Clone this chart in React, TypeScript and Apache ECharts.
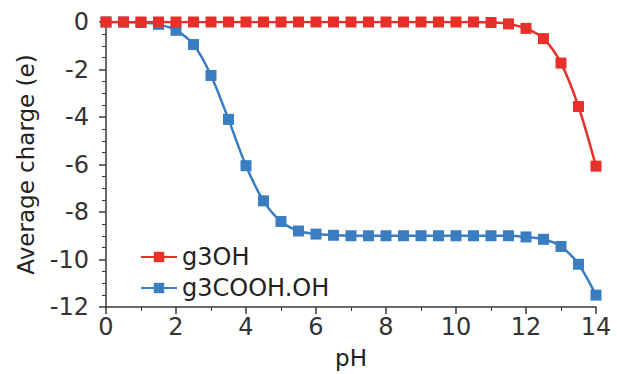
import React, { useEffect, useRef } from "react";
import * as echarts from "echarts";

const pH = [0, 0.5, 1, 1.5, 2, 2.5, 3, 3.5, 4, 4.5, 5, 5.5, 6, 6.5, 7, 7.5, 8, 8.5, 9, 9.5, 10, 10.5, 11, 11.5, 12, 12.5, 13, 13.5, 14];
const g3OH = [0, 0, 0, 0, 0, 0, 0, 0, 0, 0, 0, 0, 0, 0, 0, 0, 0, 0, 0, 0, 0, 0, -0.02, -0.08, -0.27, -0.7, -1.73, -3.56, -6.07];
const g3COOHOH = [0, 0, -0.02, -0.1, -0.35, -0.95, -2.25, -4.1, -6.05, -7.53, -8.4, -8.8, -8.93, -8.98, -9, -9, -9, -9, -9, -9, -9, -9, -9, -9, -9.05, -9.15, -9.45, -10.2, -11.5];
const xTicks = [0, 2, 4, 6, 8, 10, 12, 14];
const yTicks = [0, -2, -4, -6, -8, -10, -12];

export default function App() {
  const ref = useRef<HTMLDivElement>(null);
  useEffect(() => {
    const chart = echarts.init(ref.current!, null, { renderer: "svg" });
    const font = "DejaVu Sans";
    const axisColor = "#3a3a3a";
    chart.setOption({
      animation: false,
      textStyle: { fontFamily: font },
      grid: { left: 106, right: 21, top: 22, bottom: 65 },
      legend: {
        left: 135,
        top: 240,
        orient: "vertical",
        itemWidth: 36,
        itemHeight: 13,
        itemGap: 7,
        textStyle: { fontSize: 24, color: "#222", fontFamily: font },
        data: ["g3OH", "g3COOH.OH"],
      },
      xAxis: {
        type: "value",
        min: 0,
        max: 14,
        interval: 2,
        name: "pH",
        nameLocation: "middle",
        nameGap: 39,
        nameTextStyle: { fontSize: 23, color: "#222", fontFamily: font },
        axisLine: { show: true, onZero: false, lineStyle: { color: axisColor, width: 1.5 } },
        axisTick: { show: true, length: 7, lineStyle: { color: axisColor, width: 1.5 } },
        minorTick: { show: true, splitNumber: 2, length: 4, lineStyle: { color: axisColor, width: 1 } },
        splitLine: { show: false },
        axisLabel: {
          fontSize: 24,
          color: "#333",
          margin: 8,
          fontFamily: font,
          formatter: (v: number) => (xTicks.includes(v) ? String(v) : ""),
        },
      },
      yAxis: {
        type: "value",
        min: -12,
        max: 0,
        interval: 2,
        name: "Average charge (e)",
        nameLocation: "middle",
        nameGap: 69,
        nameRotate: 90,
        nameTextStyle: { fontSize: 23, color: "#222", fontFamily: font },
        axisLine: { show: true, onZero: false, lineStyle: { color: axisColor, width: 1.5 } },
        axisTick: { show: true, length: 7, lineStyle: { color: axisColor, width: 1.5 } },
        minorTick: { show: true, splitNumber: 4, length: 4, lineStyle: { color: axisColor, width: 1 } },
        splitLine: { show: false },
        axisLabel: {
          fontSize: 24,
          color: "#333",
          margin: 17,
          fontFamily: font,
          formatter: (v: number) => (yTicks.includes(v) ? String(v) : ""),
        },
      },
      series: [
        {
          name: "g3OH",
          type: "line",
          data: pH.map((x, i) => [x, g3OH[i]]),
          smooth: 0.3,
          symbol: "rect",
          symbolSize: 11,
          lineStyle: { color: "#e8302a", width: 2.5 },
          itemStyle: { color: "#e8302a" },
          z: 3,
        },
        {
          name: "g3COOH.OH",
          type: "line",
          data: pH.map((x, i) => [x, g3COOHOH[i]]),
          smooth: 0.3,
          symbol: "rect",
          symbolSize: 11,
          lineStyle: { color: "#3a7dc0", width: 2.5 },
          itemStyle: { color: "#3a7dc0" },
          z: 2,
        },
      ],
    });
    return () => chart.dispose();
  }, []);
  return <div ref={ref} style={{ width: 617, height: 374, position: "absolute", left: 0, top: 0 }} />;
}
